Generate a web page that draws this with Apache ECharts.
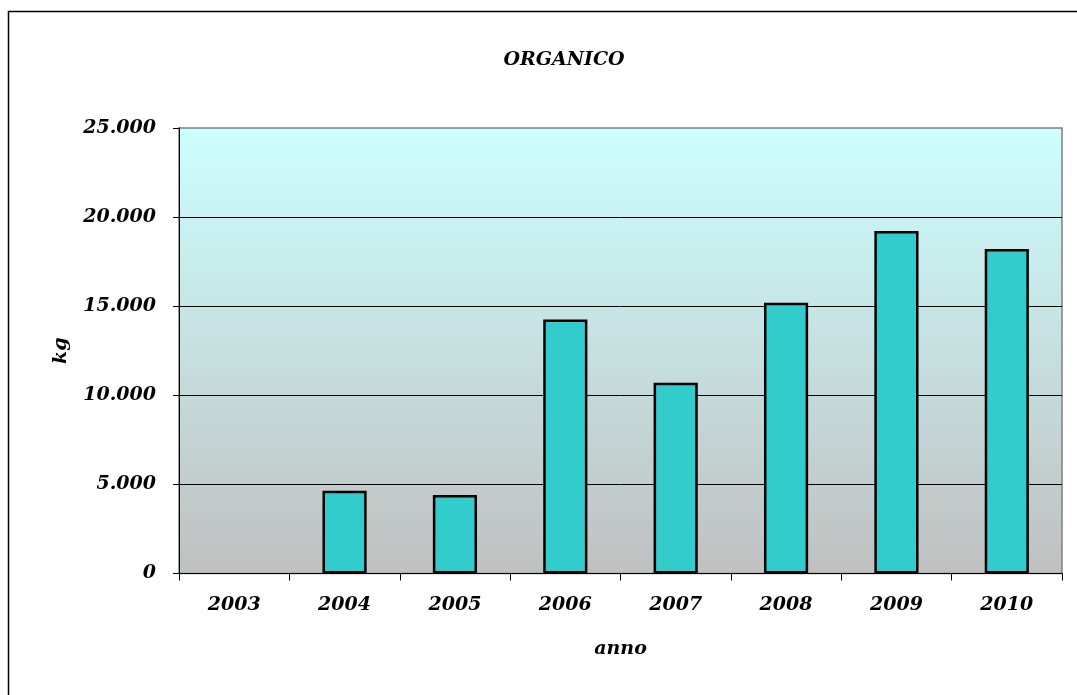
<!DOCTYPE html>
<html>
<head>
<meta charset="utf-8">
<script src="https://cdn.jsdelivr.net/npm/echarts@6/dist/echarts.min.js"></script>
<style>
html, body { margin: 0; padding: 0; background: #fff; }
#chart { width: 1077px; height: 695px; }
</style>
</head>
<body>
<div id="chart"></div>
<script>
// dati del grafico ('-' = nessun valore nel 2003)
var anni = ['2003', '2004', '2005', '2006', '2007', '2008', '2009', '2010'];
var kgOrganico = ['-', 4650, 4400, 14260, 10700, 15200, 19220, 18210];
var yTicks = [0, 5000, 10000, 15000, 20000, 25000];

var fontFam = '"DejaVu Serif", "Liberation Serif", serif';

function fmtKg(v) {
    // separatore migliaia con il punto
    return String(v).replace(/\B(?=(\d{3})+(?!\d))/g, '.');
}

var myChart = echarts.init(document.getElementById('chart'), null, { renderer: 'canvas' });

var option = {
    backgroundColor: '#fff',
    animation: false,
    title: {
        text: 'ORGANICO',
        left: 559,
        top: 46,
        textAlign: 'center',
        textStyle: {
            fontFamily: fontFam,
            fontStyle: 'italic',
            fontWeight: 'bold',
            fontSize: 19,
            color: '#000'
        }
    },
    graphic: [{
        type: 'rect',
        shape: { x: 8.5, y: 11.5, width: 1100, height: 700 },
        style: { fill: 'none', stroke: '#000', lineWidth: 1.5 },
        silent: true
    }],
    grid: {
        left: 179,
        right: 15,
        top: 128,
        bottom: 121.5,
        show: true,
        borderColor: '#808080',
        borderWidth: 1.5,
        backgroundColor: new echarts.graphic.LinearGradient(0, 0, 0, 1, [
            { offset: 0, color: '#CCFFFF' },
            { offset: 1, color: '#C0C0C0' }
        ])
    },
    xAxis: {
        type: 'category',
        data: anni,
        name: 'anno',
        nameLocation: 'middle',
        nameGap: 66,
        nameTextStyle: {
            fontFamily: fontFam,
            fontStyle: 'italic',
            fontWeight: 'bold',
            fontSize: 19,
            color: '#000'
        },
        axisLine: { show: true, lineStyle: { color: '#000', width: 1 } },
        axisTick: { show: true, alignWithLabel: false, length: 7, lineStyle: { color: '#000' } },
        axisLabel: {
            margin: 22,
            fontFamily: fontFam,
            fontStyle: 'italic',
            fontWeight: 'bold',
            fontSize: 19,
            color: '#000'
        }
    },
    yAxis: {
        type: 'value',
        min: 0,
        max: 25000,
        interval: 5000,
        name: 'kg',
        nameLocation: 'middle',
        nameRotate: 90,
        nameGap: 108,
        nameTextStyle: {
            fontFamily: fontFam,
            fontStyle: 'italic',
            fontWeight: 'bold',
            fontSize: 19,
            color: '#000'
        },
        axisLine: { show: true, lineStyle: { color: '#000', width: 1 } },
        axisTick: { show: true, length: 6, inside: false, lineStyle: { color: '#000' } },
        splitLine: { show: true, showMaxLine: false, lineStyle: { color: '#000', width: 1 } },
        axisLabel: {
            margin: 23,
            fontFamily: fontFam,
            fontStyle: 'italic',
            fontWeight: 'bold',
            fontSize: 19,
            color: '#000',
            formatter: function (v) {
                return yTicks.indexOf(v) >= 0 ? fmtKg(v) : '';
            }
        }
    },
    series: [{
        name: 'ORGANICO',
        type: 'bar',
        data: kgOrganico,
        barWidth: '40%',
        itemStyle: {
            color: '#33CCCC',
            borderColor: '#000',
            borderWidth: 2.5
        }
    }]
};

myChart.setOption(option);
</script>
</body>
</html>
